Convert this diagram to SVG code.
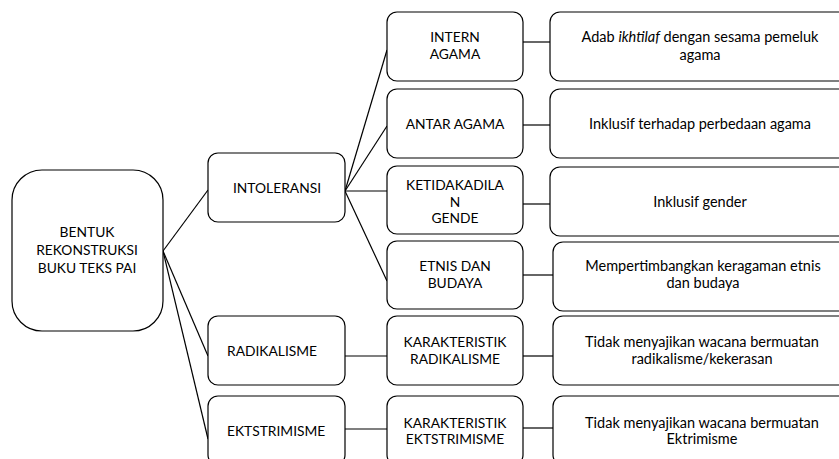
<svg xmlns="http://www.w3.org/2000/svg" width="839" height="459" viewBox="0 0 839 459">
<style>
.box{fill:#fff;stroke:#000;stroke-width:1.2}
.c{stroke:#000;stroke-width:1.2;fill:none}
text{font-family:Lato,"Liberation Sans",sans-serif;font-size:14.5px;fill:#000;text-anchor:middle}
.k{font-size:13.8px}
.l{text-anchor:start}
</style>
<rect width="839" height="459" fill="#fff"/>
<g id="connectors">
<line class="c" x1="163" y1="251" x2="208" y2="190"/>
<line class="c" x1="163" y1="251" x2="208" y2="356"/>
<line class="c" x1="163" y1="251" x2="208" y2="439"/>
<line class="c" x1="345" y1="191" x2="387" y2="50"/>
<line class="c" x1="345" y1="191" x2="387" y2="126"/>
<line class="c" x1="345" y1="191" x2="387" y2="191"/>
<line class="c" x1="345" y1="191" x2="387" y2="281"/>
<line class="c" x1="345" y1="356" x2="387" y2="356"/>
<line class="c" x1="345" y1="429" x2="387" y2="429"/>
<line class="c" x1="523" y1="42" x2="550" y2="42"/>
<line class="c" x1="523" y1="125" x2="550" y2="125"/>
<line class="c" x1="523" y1="204" x2="550" y2="204"/>
<line class="c" x1="523" y1="275" x2="553" y2="275"/>
<line class="c" x1="523" y1="356" x2="553" y2="356"/>
<line class="c" x1="523" y1="428" x2="553" y2="428"/>
</g>
<g id="root" class="k"><rect class="box" x="12" y="170" width="151" height="161" rx="30"/>
<text class="k" x="87" y="237">BENTUK</text><text class="k" x="87" y="255">REKONSTRUKSI</text><text class="k" x="87" y="273">BUKU TEKS PAI</text></g>
<g id="intoleransi"><rect class="box" x="208" y="153" width="137" height="69" rx="10"/><text class="k" x="277" y="193">INTOLERANSI</text></g>
<g id="radikalisme"><rect class="box" x="208" y="316" width="137" height="69" rx="10"/><text class="k l" x="227" y="356">RADIKALISME</text></g>
<g id="ekstrimisme"><rect class="box" x="208" y="396" width="137" height="69" rx="10"/><text class="k l" x="227" y="436">EKTSTRIMISME</text></g>
<g id="intern"><rect class="box" x="387" y="12" width="136" height="69" rx="10"/><text class="k" x="455" y="42">INTERN</text><text class="k" x="455" y="59">AGAMA</text></g>
<g id="antar"><rect class="box" x="387" y="89" width="136" height="69" rx="10"/><text class="k" x="455" y="129">ANTAR AGAMA</text></g>
<g id="gender"><rect class="box" x="387" y="166" width="136" height="68" rx="10"/><text class="k" x="455" y="190">KETIDAKADILA</text><text class="k" x="455" y="207">N</text><text class="k" x="455" y="223">GENDE</text></g>
<g id="etnis"><rect class="box" x="387" y="241" width="136" height="68" rx="10"/><text class="k" x="455" y="271">ETNIS DAN</text><text class="k" x="455" y="288">BUDAYA</text></g>
<g id="kar-rad"><rect class="box" x="387" y="316" width="136" height="69" rx="10"/><text class="k" x="455" y="347">KARAKTERISTIK</text><text class="k" x="455" y="364">RADIKALISME</text></g>
<g id="kar-ekt"><rect class="box" x="387" y="396" width="136" height="69" rx="10"/><text class="k" x="455" y="428">KARAKTERISTIK</text><text class="k" x="455" y="444">EKTSTRIMISME</text></g>
<g id="adab"><rect class="box" x="550" y="12" width="300" height="69" rx="10"/><text x="700" y="42">Adab <tspan font-style="italic">ikhtilaf</tspan> dengan sesama pemeluk</text><text x="700" y="60">agama</text></g>
<g id="inklusif-agama"><rect class="box" x="550" y="89" width="300" height="69" rx="10"/><text x="700" y="129">Inklusif terhadap perbedaan agama</text></g>
<g id="inklusif-gender"><rect class="box" x="550" y="167" width="300" height="69" rx="10"/><text x="700" y="207">Inklusif gender</text></g>
<g id="keragaman"><rect class="box" x="553" y="242" width="300" height="69" rx="10"/><text x="703" y="271">Mempertimbangkan keragaman etnis</text><text x="703" y="288">dan budaya</text></g>
<g id="wacana-rad"><rect class="box" x="553" y="316" width="300" height="69" rx="10"/><text x="702" y="347">Tidak menyajikan wacana bermuatan</text><text x="702" y="364">radikalisme/kekerasan</text></g>
<g id="wacana-ekt"><rect class="box" x="553" y="396" width="300" height="69" rx="10"/><text x="702" y="428">Tidak menyajikan wacana bermuatan</text><text x="702" y="444">Ektrimisme</text></g>
</svg>
